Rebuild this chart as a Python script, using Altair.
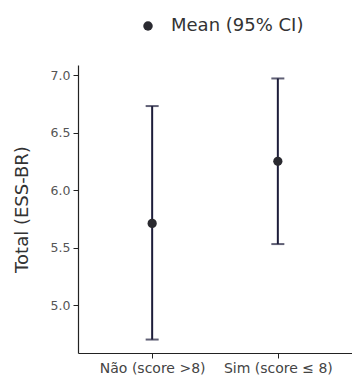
import altair as alt
import pandas as pd

# Group labels and summary statistics (mean with 95% CI)
groups = ["Não (score >8)", "Sim (score ≤ 8)"]
means = [5.71, 6.25]
ci_low = [4.70, 5.53]
ci_high = [6.73, 6.97]
series_label = ["Mean (95% CI)", "Mean (95% CI)"]

df = pd.DataFrame({
    "group": groups,
    "mean": means,
    "lo": ci_low,
    "hi": ci_high,
    "series": series_label,
})

FONT = "DejaVu Sans"
BAR_COLOR = "#1d1d3a"
DOT_COLOR = "#2a2a30"

x_enc = alt.X(
    "group:N",
    sort=groups,
    scale=alt.Scale(type="point", padding=0.59),
    axis=alt.Axis(
        title=None, labelAngle=0, labelFontSize=14, labelColor="#444",
        labelFont=FONT, labelPadding=3, tickSize=5, tickColor="#222",
        domainColor="#222", domainWidth=1.2, grid=False,
    ),
)

y_scale = alt.Scale(domain=[4.583, 7.087], nice=False, zero=False)

base = alt.Chart(df)

rules = base.mark_rule(color=BAR_COLOR, strokeWidth=2).encode(
    x=x_enc,
    y=alt.Y(
        "lo:Q",
        scale=y_scale,
        axis=alt.Axis(
            title="Total (ESS-BR)", titleFontSize=18, titleFont=FONT,
            titleFontWeight="normal", titleColor="#333", titlePadding=19,
            values=[5.0, 5.5, 6.0, 6.5, 7.0], format=".1f",
            labelFontSize=12.5, labelFont=FONT, labelColor="#555",
            labelPadding=3, tickSize=5, tickColor="#222",
            domainColor="#222", domainWidth=1.2, grid=False,
        ),
    ),
    y2="hi:Q",
)

caps_hi = base.mark_tick(color=BAR_COLOR, thickness=2, size=13, orient="horizontal").encode(
    x=alt.X("group:N", sort=groups),
    y=alt.Y("hi:Q", scale=y_scale),
)
caps_lo = base.mark_tick(color=BAR_COLOR, thickness=2, size=13, orient="horizontal").encode(
    x=alt.X("group:N", sort=groups),
    y=alt.Y("lo:Q", scale=y_scale),
)

points = base.mark_point(filled=True, opacity=1, size=85).encode(
    x=alt.X("group:N", sort=groups),
    y=alt.Y("mean:Q", scale=y_scale),
    color=alt.Color(
        "series:N",
        scale=alt.Scale(range=[DOT_COLOR]),
        legend=alt.Legend(
            title=None, orient="none", legendX=61, legendY=-48,
            labelFontSize=18, labelFont=FONT, labelColor="#333",
            symbolSize=90, symbolType="circle", labelOffset=14, padding=0,
        ),
    ),
)

chart = (
    alt.layer(rules, caps_hi, caps_lo, points)
    .properties(
        width=274, height=288,
        autosize=alt.AutoSizeParams(type="none"),
        padding={"left": 78, "top": 65, "right": 0, "bottom": 26},
    )
    .configure(background="white", view=alt.ViewConfig(stroke=None))
)

chart.save("out.html", embed_options={"renderer": "svg", "actions": False})
